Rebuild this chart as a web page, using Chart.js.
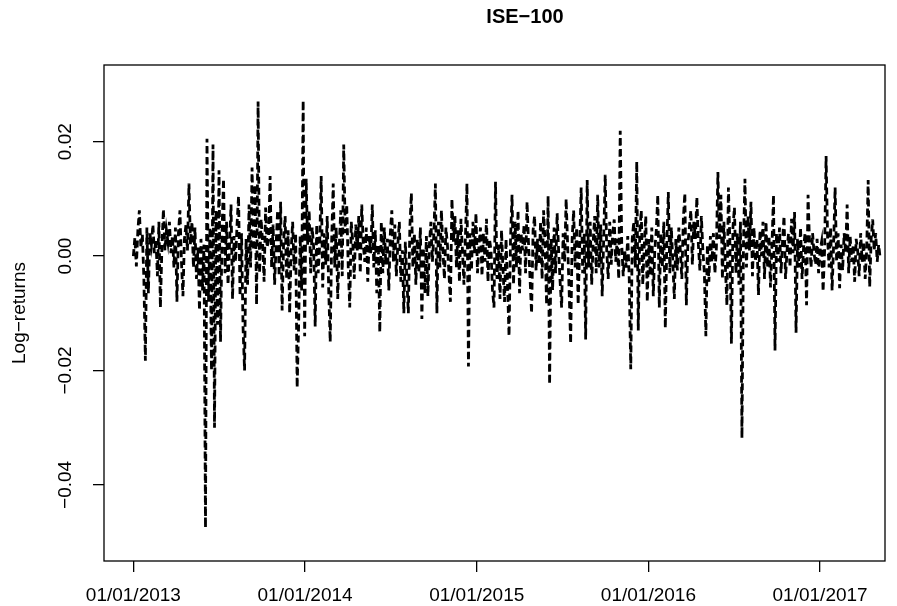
<!DOCTYPE html>
<html>
<head>
<meta charset="utf-8">
<script src="https://cdn.jsdelivr.net/npm/chart.js@4.4.1/dist/chart.umd.min.js"></script>
<style>
  html, body { margin: 0; padding: 0; background: #fff; }
</style>
</head>
<body>
<canvas id="chart-ise" width="897" height="606"></canvas>
<script>
// daily log-returns of ISE-100 (about 2 obs. per 3 px)
var logReturns = [
  0.0000, 0.0032, -0.0018, 0.0045, 0.0080, 0.0015, 0.0038, -0.0040, -0.0183, 0.0050,
  -0.0065, 0.0040, 0.0020, 0.0055, 0.0005, 0.0030, -0.0035, 0.0060, -0.0090, 0.0015,
  0.0082, 0.0010, 0.0045, 0.0025, 0.0060, 0.0005, 0.0035, -0.0020, 0.0050, -0.0080,
  0.0040, 0.0080, -0.0010, -0.0070, 0.0030, 0.0055, 0.0010, 0.0127, 0.0020, 0.0060,
  -0.0020, 0.0050, -0.0040, 0.0015, -0.0095, 0.0030, -0.0060, 0.0020, -0.0475, 0.0205,
  -0.0080, 0.0050, -0.0200, 0.0195, -0.0300, 0.0080, -0.0120, 0.0150, -0.0150, 0.0040,
  0.0135, -0.0030, 0.0060, -0.0050, 0.0020, 0.0090, -0.0075, 0.0035, -0.0010, 0.0055,
  0.0105, -0.0070, 0.0040, -0.0125, -0.0200, 0.0030, -0.0050, 0.0090, -0.0020, 0.0155,
  0.0010, 0.0125, -0.0085, 0.0270, -0.0030, 0.0065, 0.0025, -0.0045, 0.0085, 0.0015,
  0.0030, 0.0140, -0.0020, 0.0055, -0.0050, 0.0020, 0.0080, -0.0035, 0.0095, -0.0095,
  0.0025, 0.0070, -0.0040, 0.0045, -0.0100, 0.0010, 0.0060, -0.0025, 0.0040, -0.0230,
  -0.0120, 0.0035, -0.0060, 0.0272, -0.0140, 0.0135, 0.0020, 0.0080, -0.0030, 0.0050,
  0.0015, -0.0123, 0.0055, -0.0030, 0.0020, 0.0140, -0.0055, 0.0040, -0.0015, 0.0070,
  -0.0060, -0.0150, 0.0030, 0.0127, -0.0020, 0.0050, -0.0075, 0.0015, 0.0080, -0.0035,
  0.0195, 0.0040, 0.0090, -0.0020, -0.0090, 0.0060, 0.0025, -0.0040, 0.0055, 0.0010,
  0.0070, -0.0030, 0.0090, 0.0020, -0.0010, 0.0050, -0.0045, 0.0035, 0.0005, 0.0090,
  -0.0020, 0.0045, -0.0065, 0.0020, -0.0133, 0.0060, -0.0030, 0.0050, -0.0015, 0.0030,
  -0.0060, 0.0040, 0.0080, -0.0010, 0.0055, -0.0035, 0.0020, 0.0060, -0.0045, 0.0010,
  -0.0100, 0.0025, -0.0040, -0.0100, 0.0050, 0.0110, -0.0020, 0.0040, -0.0050, 0.0030,
  -0.0030, 0.0050, -0.0110, 0.0015, -0.0065, 0.0035, -0.0070, 0.0020, 0.0060, -0.0010,
  0.0040, 0.0127, -0.0100, 0.0060, -0.0020, 0.0080, 0.0010, -0.0040, 0.0050, 0.0020,
  -0.0030, -0.0080, 0.0100, 0.0025, 0.0070, -0.0020, 0.0045, -0.0045, 0.0065, 0.0010,
  -0.0050, 0.0035, 0.0127, -0.0193, 0.0040, -0.0025, 0.0060, 0.0005, 0.0075, -0.0030,
  0.0020, 0.0050, -0.0035, 0.0040, -0.0010, 0.0065, -0.0045, 0.0030, 0.0010, -0.0060,
  -0.0090, 0.0130, -0.0040, 0.0020, -0.0075, 0.0045, -0.0025, -0.0080, 0.0030, -0.0050,
  -0.0140, 0.0030, 0.0107, -0.0050, 0.0060, -0.0020, 0.0080, -0.0065, 0.0040, 0.0010,
  0.0055, -0.0030, 0.0095, 0.0020, -0.0040, -0.0100, 0.0045, 0.0070, -0.0025, 0.0030,
  -0.0015, 0.0060, -0.0040, 0.0080, 0.0020, -0.0085, 0.0105, -0.0224, 0.0030, -0.0060,
  0.0050, -0.0030, 0.0075, 0.0010, -0.0045, -0.0090, 0.0040, -0.0010, 0.0100, 0.0020,
  -0.0060, -0.0153, 0.0030, 0.0080, -0.0020, 0.0050, -0.0085, 0.0015, 0.0120, -0.0030,
  0.0040, -0.0146, 0.0133, -0.0020, 0.0060, -0.0050, 0.0025, 0.0070, -0.0030, 0.0107,
  -0.0020, 0.0055, -0.0070, 0.0030, 0.0142, 0.0010, -0.0040, 0.0060, -0.0015, 0.0040,
  0.0064, -0.0010, 0.0030, -0.0040, 0.0219, 0.0020, -0.0035, 0.0010, -0.0020, 0.0035,
  -0.0040, -0.0198, 0.0030, 0.0060, -0.0020, 0.0165, -0.0130, 0.0040, 0.0080, -0.0050,
  0.0020, 0.0070, -0.0080, 0.0030, -0.0035, 0.0050, -0.0070, 0.0010, 0.0045, 0.0107,
  -0.0090, 0.0040, -0.0020, 0.0060, -0.0126, 0.0020, 0.0112, -0.0030, 0.0050, -0.0010,
  -0.0075, 0.0030, -0.0025, 0.0050, 0.0010, -0.0040, 0.0065, 0.0110, -0.0086, 0.0020,
  0.0050, 0.0080, -0.0015, 0.0060, 0.0030, 0.0103, 0.0020, -0.0025, 0.0070, 0.0010,
  -0.0030, -0.0140, 0.0020, -0.0045, 0.0035, -0.0010, 0.0040, -0.0030, 0.0015, 0.0147,
  0.0030, 0.0107, -0.0040, 0.0060, -0.0020, -0.0086, 0.0120, 0.0020, -0.0153, 0.0050,
  0.0085, -0.0030, 0.0040, -0.0050, 0.0060, -0.0318, 0.0020, 0.0135, -0.0020, 0.0070,
  0.0010, 0.0095, -0.0035, 0.0050, -0.0010, 0.0030, -0.0068, 0.0045, 0.0000, 0.0060,
  -0.0040, 0.0060, -0.0020, 0.0035, -0.0055, 0.0020, 0.0107, -0.0165, 0.0040, -0.0010,
  0.0050, -0.0030, 0.0025, 0.0070, -0.0040, 0.0010, 0.0040, -0.0020, 0.0065, 0.0005,
  0.0077, -0.0134, 0.0030, -0.0020, 0.0050, -0.0040, 0.0015, 0.0040, -0.0086, 0.0107,
  0.0020, -0.0020, 0.0040, 0.0005, -0.0015, 0.0030, -0.0030, 0.0010, 0.0025, -0.0062,
  0.0010, 0.0175, 0.0030, -0.0020, 0.0050, -0.0060, 0.0020, 0.0120, -0.0010, 0.0040,
  -0.0056, 0.0020, -0.0025, 0.0040, 0.0005, 0.0090, -0.0030, 0.0035, -0.0010, 0.0020,
  -0.0045, 0.0030, 0.0010, -0.0035, 0.0040, -0.0010, 0.0025, -0.0040, 0.0010, 0.0133,
  -0.0054, 0.0030, 0.0064, 0.0010, 0.0040, -0.0010, 0.0020, -0.0005
];
// first and last observation, in decimal years
var firstYear = 2013.0;
var lastYear = 2017.35;

var xTicks = [2013, 2014, 2015, 2016, 2017];
var xTickLabels = ["01/01/2013", "01/01/2014", "01/01/2015", "01/01/2016", "01/01/2017"];
var yTicks = [-0.04, -0.02, 0, 0.02];
var yTickLabels = ["\u22120.04", "\u22120.02", "0.00", "0.02"];

var points = logReturns.map(function(v, i) {
  return { x: firstYear + i * (lastYear - firstYear) / (logReturns.length - 1), y: v };
});

var FONT = '"Liberation Sans", Arial, Helvetica, sans-serif';

// R-like frame, rotated y labels, axis title and main title
var rStyle = {
  id: 'rStyle',
  afterDraw: function(chart) {
    var c = chart.ctx, a = chart.chartArea, ys = chart.scales.y;
    c.save();
    c.strokeStyle = '#000';
    c.lineWidth = 1.3;
    c.setLineDash([]);
    c.strokeRect(a.left, a.top, a.right - a.left, a.bottom - a.top);
    c.fillStyle = '#000';
    c.font = '19px ' + FONT;
    c.textAlign = 'center';
    c.textBaseline = 'middle';
    yTicks.forEach(function(v, i) {
      c.save();
      c.translate(66, ys.getPixelForValue(v));
      c.rotate(-Math.PI / 2);
      c.fillText(yTickLabels[i], 0, 0);
      c.restore();
    });
    c.save();
    c.translate(20, (a.top + a.bottom) / 2);
    c.rotate(-Math.PI / 2);
    c.fillText('Log\u2212returns', 0, 0);
    c.restore();
    c.font = 'bold 20px ' + FONT;
    c.fillText('ISE\u2212100', 525, 17);
    c.restore();
  }
};

var ctx = document.getElementById("chart-ise").getContext("2d");
new Chart(ctx, {
  type: "line",
  data: {
    datasets: [{
      label: "ISE-100",
      data: points,
      borderColor: "#000",
      borderWidth: 2.8,
      borderDash: [7, 4],
      pointRadius: 0,
      fill: false,
      tension: 0
    }]
  },
  options: {
    responsive: false,
    animation: false,
    devicePixelRatio: 1,
    layout: {
      padding: { top: 65, right: 12, left: 0, bottom: 0 }
    },
    plugins: {
      legend: { display: false },
      tooltip: { enabled: false }
    },
    scales: {
      x: {
        type: "linear",
        min: 2012.829,
        max: 2017.378,
        afterBuildTicks: function(s) {
          s.ticks = xTicks.map(function(v) { return { value: v }; });
        },
        afterFit: function(s) { s.height = 45; },
        border: { display: false },
        grid: {
          drawOnChartArea: false,
          drawTicks: true,
          tickLength: 11,
          color: "#000",
          lineWidth: 1.3
        },
        ticks: {
          autoSkip: false,
          maxRotation: 0,
          padding: 12,
          color: "#000",
          font: { family: FONT, size: 19 },
          callback: function(value) {
            var i = xTicks.indexOf(value);
            return i >= 0 ? xTickLabels[i] : "";
          }
        }
      },
      y: {
        type: "linear",
        min: -0.0533,
        max: 0.0334,
        afterBuildTicks: function(s) {
          s.ticks = yTicks.map(function(v) { return { value: v }; });
        },
        afterFit: function(s) { s.width = 104; },
        border: { display: false },
        grid: {
          drawOnChartArea: false,
          drawTicks: true,
          tickLength: 11,
          color: "#000",
          lineWidth: 1.3
        },
        ticks: { display: false }
      }
    }
  },
  plugins: [rStyle]
});
</script>
</body>
</html>
